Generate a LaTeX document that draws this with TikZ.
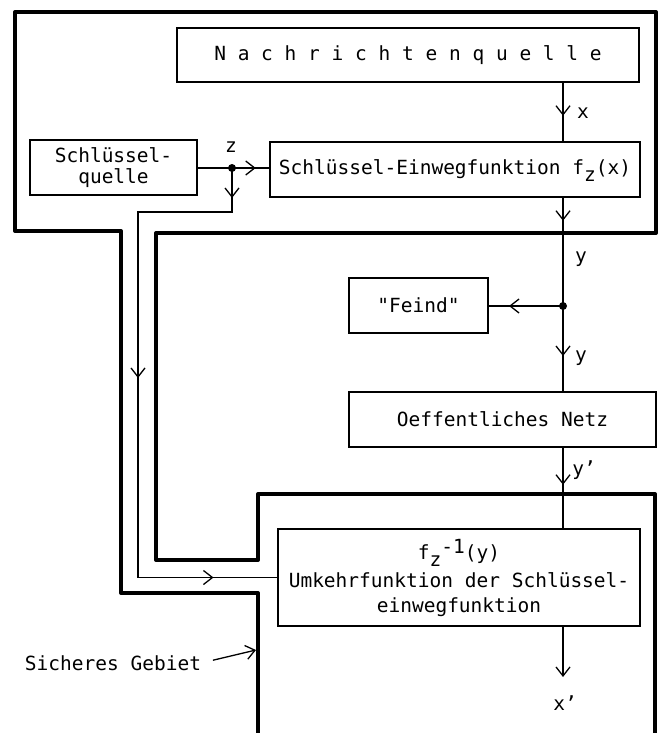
\documentclass[tikz,border=0pt]{standalone}
\usepackage{fontspec}
\setmainfont{DejaVu Sans Mono}
\newfontfamily\plainfont{DejaVu Sans Mono}[Ligatures=TeXOff]
\usetikzlibrary{arrows.meta,decorations.markings}
\newcommand\dfont{\fontsize{19.5pt}{21pt}\selectfont}
\newcommand\ufont{\fontsize{19.5pt}{25pt}\selectfont}
\begin{document}
\begin{tikzpicture}[x=1pt,y=-1pt,
  box/.style={draw, line width=1.5pt, inner sep=0pt, align=center, font=\dfont},
  lbl/.style={inner sep=0pt, font=\dfont},
  wire/.style={line width=1.3pt},
  zone/.style={line width=4pt, line join=round},
  vtip/.tip={Straight Barb[length=9pt,width=14pt]},
  arrat/.style={postaction={decorate, decoration={markings, mark=at position #1 with {\arrow{vtip}}}}}
]
\useasboundingbox (0,0) rectangle (662,733);
% secure area boundary
\draw[zone] (258,733) -- (258,593) -- (121,593) -- (121,231) -- (15,231) -- (15,12)
  -- (656,12) -- (656,233) -- (156,233) -- (156,560) -- (258,560) -- (258,494)
  -- (655,494) -- (655,733);
% boxes
\node[box, minimum width=462pt, minimum height=54pt] (nq) at (408,55) {N a c h r i c h t e n q u e l l e};
\node[box, minimum width=370pt, minimum height=55pt] (ew) at (455,169.5) {Schlüssel-Einwegfunktion f\raisebox{-7pt}[0pt][0pt]{z}(x)};
\node[box, minimum width=167pt, minimum height=55pt] (sq) at (113.5,167.5) {Schlüssel-\\quelle};
\node[box, minimum width=139pt, minimum height=55pt, font=\dfont\plainfont] (fe) at (418.5,305.5) {"Feind"};
\node[box, minimum width=307pt, minimum height=55pt] (on) at (502.5,419.5) {Oeffentliches Netz};
\node[box, minimum width=362pt, minimum height=97pt, font=\ufont] (uk) at (459,577.5)
  {f\raisebox{-7pt}{z}\raisebox{6pt}{-1}(y)\\[3pt] Umkehrfunktion der Schlüssel-\\ einwegfunktion};
% coordinates
\coordinate (col) at (563,0);
\coordinate (d1) at (232,168);
\coordinate (d2) at (563,306);
\coordinate (k1) at (138,212);
\coordinate (xend) at (563,677);
% connectors
\draw[wire, arrat=33pt] (col |- nq.south) -- (col |- ew.north);
\draw[wire, arrat=58pt] (sq.east |- d1) -- (d1) -- (d1 -| ew.west);
\draw[wire, arrat=30pt, arrat=304pt, arrat=579pt] (d1) |- (k1) |- (uk.west);
\draw[wire, arrat=23pt] (col |- ew.south) -- (d2);
\draw[wire, arrat=54pt] (d2) -- (d2 -| fe.east);
\draw[wire, arrat=50pt] (d2) -- (col |- on.north);
\draw[wire, arrat=37pt] (col |- on.south) -- (col |- uk.north);
\draw[wire, -{vtip}] (col |- uk.south) -- (xend);
\fill (d1) circle (4pt);
\fill (d2) circle (4pt);
% labels
\node[lbl] (lx) at (583,113) {x};
\node[lbl] (lz) at (231,147) {z};
\node[lbl] (ly1) at (581,259) {y};
\node[lbl] (ly2) at (581,358) {y};
\node[lbl] (ly3) at (584,470) {y'};
\node[lbl] (lx2) at (565,703) {x'};
\node[lbl] (sg) at (113,663) {Sicheres Gebiet};
\coordinate (sgt) at (256,650);
\draw[wire, -{vtip}, shorten <=12pt] (sg.east) -- (sgt);
\end{tikzpicture}
\end{document}
